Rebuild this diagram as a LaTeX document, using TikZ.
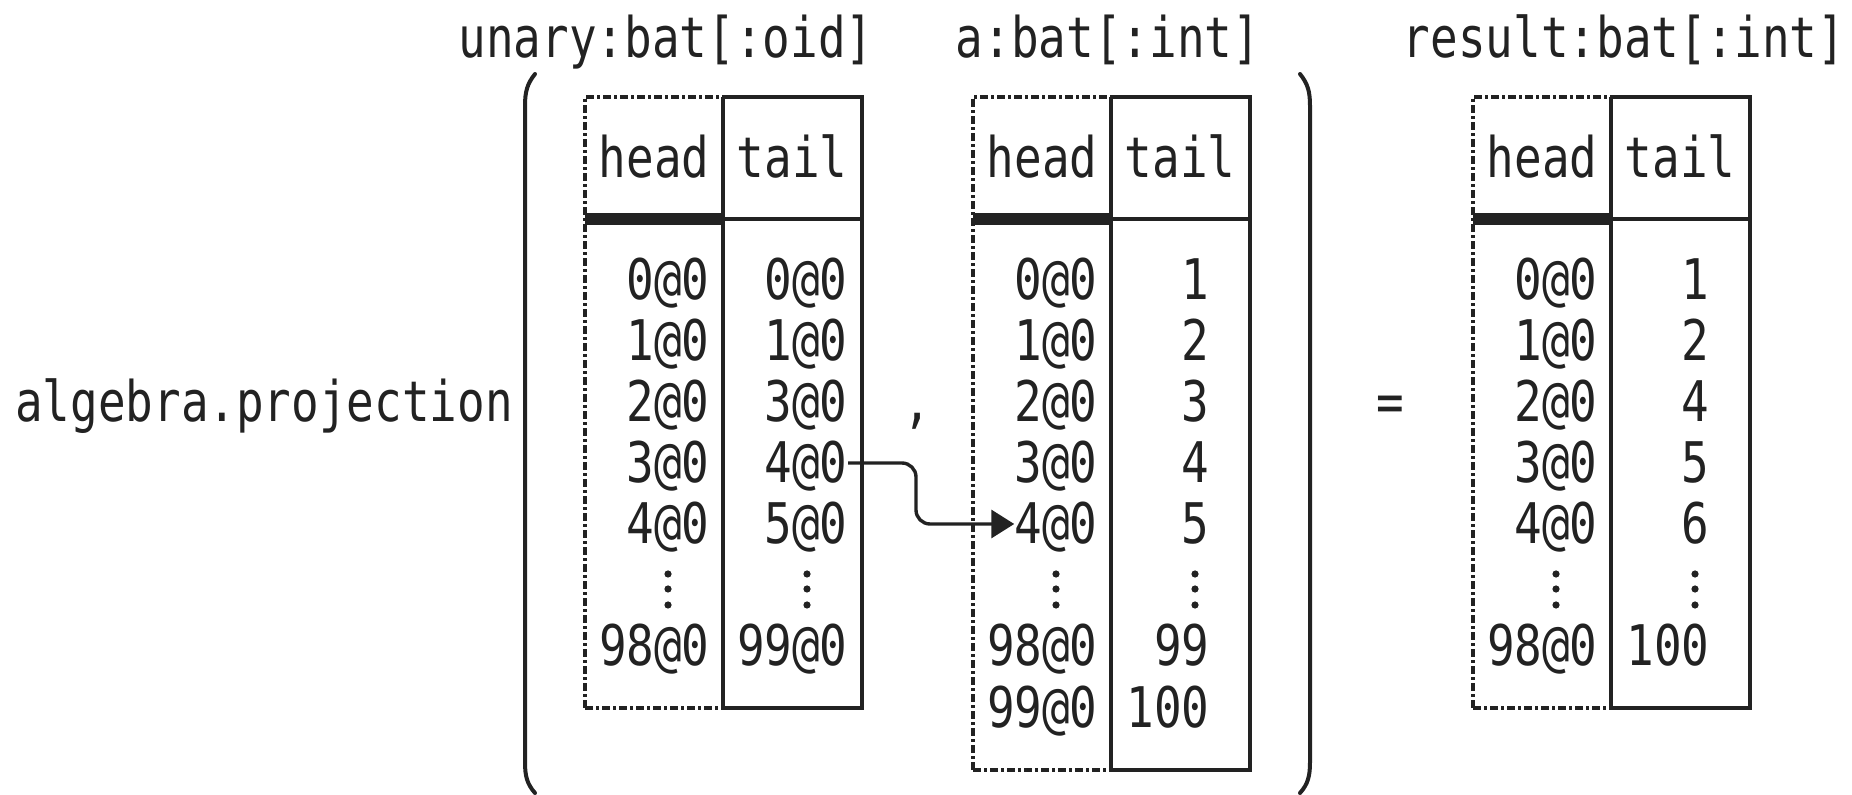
\documentclass[tikz,border=0pt]{standalone}
\usepackage{fontspec}
\setmonofont[FakeStretch=0.82]{DejaVu Sans Mono}
\usetikzlibrary{arrows.meta}
\definecolor{cInk}{RGB}{34,34,34}
\tikzset{
	batline/.style ={draw=cInk, line width=2pt},
	headcol/.style ={draw=cInk, line width=2pt, dash pattern=on 4pt off 1.5pt on 1.5pt off 1.5pt},
	keyrule/.style ={draw=cInk, line width=6pt},
	paren/.style   ={draw=cInk, line width=2pt, line cap=round},
	lbl/.style     ={anchor=base, inner sep=0pt, text=cInk},
	val/.style     ={anchor=east, inner sep=0pt, text height=20pt, text depth=0pt, text=cInk},
	sig/.style     ={-{Triangle[length=11.5pt, width=14pt]}, draw=cInk, line width=1.7pt, rounded corners=7pt},
}
\begin{document}
\begin{tikzpicture}[x=0.5pt, y=-0.5pt, font=\ttfamily\fontsize{28}{30}\selectfont]
	\useasboundingbox (0,0) rectangle (1852,795);
	% call and arguments
	\node[lbl] (fn) at (264,422) {algebra.projection};
	\node[lbl] (comma) at (917,422) {,};
	\node[lbl] (eq) at (1390,422) {=};
	\draw[paren] (535,74) .. controls (527,84) and (525,92) .. (525,106) -- (525,762) .. controls (525,776) and (527,784) .. (535,793);
	\draw[paren] (1300,74) .. controls (1308,84) and (1310,92) .. (1310,106) -- (1310,762) .. controls (1310,776) and (1308,784) .. (1300,793);
	\node[lbl] (t-unary) at (666,58) {unary:bat[:oid]};
	\node[lbl] (t-a) at (1108,58) {a:bat[:int]};
	\node[lbl] (t-result) at (1624,58) {result:bat[:int]};
	% bat frames
	\foreach \L/\B/\n in {585/708/u, 973/770/a, 1473/708/r} {
		\draw[headcol] (\L,\B) -- (\L,97) -- (\L+138,97);
		\draw[headcol] (\L,\B) -- (\L+138,\B);
		\draw[batline] (\L+138,97) -- (\L+277,97) -- (\L+277,\B) -- (\L+138,\B);
		\draw[batline] (\L+138,97) -- (\L+138,\B);
		\draw[keyrule] (\L,219) -- (\L+138,219);
		\draw[batline] (\L+138,219) -- (\L+277,219);
		\node[lbl] (\n-head) at (\L+69,178) {head};
		\node[lbl] (\n-tail) at (\L+207,178) {tail};
		\foreach \y in {574,589,605} {
			\fill[cInk] (\L+83,\y) circle (1.8pt);
			\fill[cInk] (\L+222,\y) circle (1.8pt);
		}
	}
	% unary
	\foreach \r/\v in {0/0@0, 1/1@0, 2/2@0, 3/3@0, 4/4@0, 6/98@0}
		\node[val] (u-h\r) at (710,280+61*\r) {\v};
	\foreach \r/\v in {0/0@0, 1/1@0, 2/3@0, 3/4@0, 4/5@0, 6/99@0}
		\node[val] (u-t\r) at (848,280+61*\r) {\v};
	% a
	\foreach \r/\v in {0/0@0, 1/1@0, 2/2@0, 3/3@0, 4/4@0, 6/98@0, 7/99@0}
		\node[val] (a-h\r) at (1098,280+61*\r) {\v};
	\foreach \r/\v in {0/1, 1/2, 2/3, 3/4, 4/5, 6/99, 7/100}
		\node[val] (a-t\r) at (1210,280+61*\r) {\v};
	% result
	\foreach \r/\v in {0/0@0, 1/1@0, 2/2@0, 3/3@0, 4/4@0, 6/98@0}
		\node[val] (r-h\r) at (1598,280+61*\r) {\v};
	\foreach \r/\v in {0/1, 1/2, 2/4, 3/5, 4/6, 6/100}
		\node[val] (r-t\r) at (1710,280+61*\r) {\v};
	\draw[sig] (u-t3.east) -- ++(68,0) |- (a-h4.west);
\end{tikzpicture}
\end{document}
